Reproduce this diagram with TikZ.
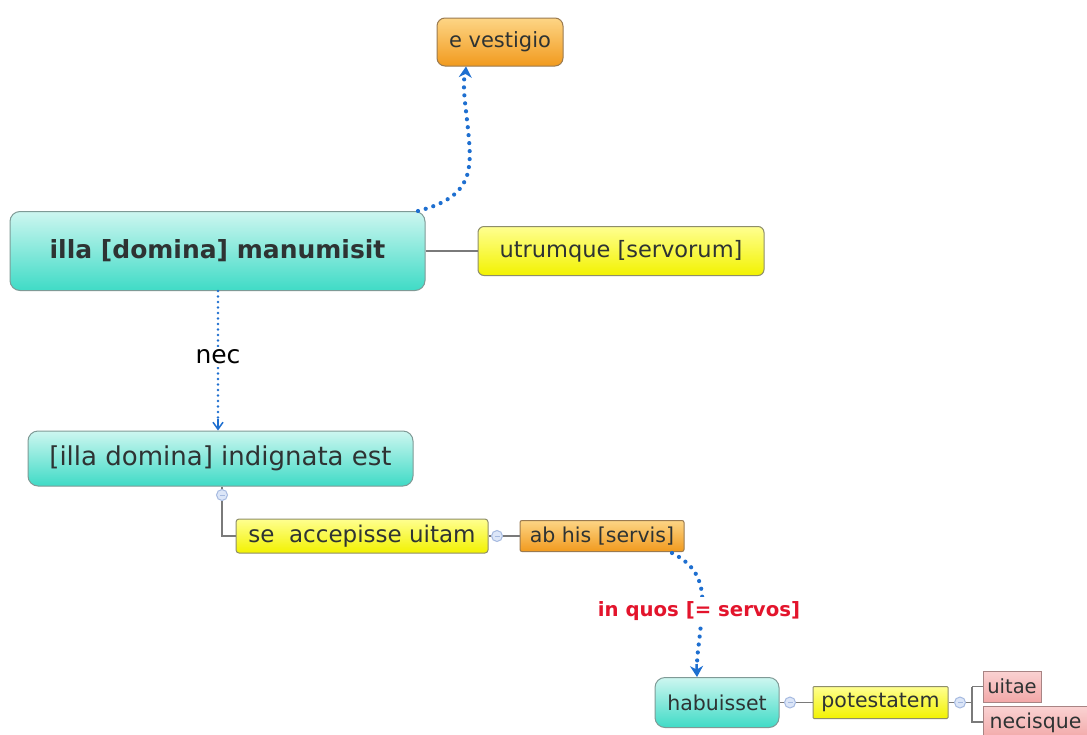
\documentclass[tikz,border=0pt]{standalone}
\usepackage{fontspec}
\setmainfont{DejaVu Sans}
\usetikzlibrary{arrows.meta,calc}
\definecolor{txt}{HTML}{2E3333}
\definecolor{tealT}{HTML}{CDF6F0}
\definecolor{tealB}{HTML}{3FDBC6}
\definecolor{tealD}{HTML}{7F9A96}
\definecolor{yelT}{HTML}{FFFF90}
\definecolor{yelB}{HTML}{F2F200}
\definecolor{yelD}{HTML}{8E8E6A}
\definecolor{oraT}{HTML}{FDD585}
\definecolor{oraB}{HTML}{F19A1E}
\definecolor{oraD}{HTML}{9A7A50}
\definecolor{pinT}{HTML}{FAD2D2}
\definecolor{pinB}{HTML}{F2A8A8}
\definecolor{pinD}{HTML}{A88484}
\definecolor{linkblue}{HTML}{1E6FD0}
\definecolor{redlab}{HTML}{E3142C}
\definecolor{tree}{HTML}{7A7A7A}
\definecolor{circF}{HTML}{DCE6F8}
\definecolor{circD}{HTML}{A6BAE0}
\tikzset{
  fs/.style={font=\fontsize{#1}{#1}\selectfont},
  tealbox/.style={draw=tealD, line width=1pt, top color=tealT, bottom color=tealB, rounded corners=10pt, text=txt, inner sep=0pt},
  yelbox/.style={draw=yelD, line width=1pt, top color=yelT, bottom color=yelB, rounded corners=3pt, text=txt, inner sep=0pt},
  orabox/.style={draw=oraD, line width=1pt, top color=oraT, bottom color=oraB, rounded corners=3pt, text=txt, inner sep=0pt},
  pinbox/.style={draw=pinD, line width=1pt, top color=pinT, bottom color=pinB, text=txt, inner sep=0pt},
  treeline/.style={draw=tree, line width=1.2pt},
  knob/.style={circle, draw=circD, fill=circF, line width=1pt, minimum size=11pt, inner sep=0pt,
     path picture={\draw[circD, line width=0.8pt] ($(path picture bounding box.center)+(-2.5pt,0)$) -- ++(5pt,0);}},
  bigdots/.style={draw=linkblue, line width=4.2pt, line cap=round, dash pattern=on 0pt off 8pt},
  smalldots/.style={draw=linkblue, line width=2.6pt, line cap=round, dash pattern=on 0pt off 5.5pt},
}
\begin{document}
\begin{tikzpicture}[x=1pt,y=-1pt]
\useasboundingbox (0,0) rectangle (1087,734);
\fill[white] (0,0) rectangle (1087,734);

% nodes
\node[orabox, rounded corners=8pt, minimum width=126pt, minimum height=48pt, fs=21] (evest) at (500,42) {e vestigio};
\node[tealbox, minimum width=415pt, minimum height=79pt, font=\fontsize{25}{25}\selectfont\bfseries] (manu) at (217.5,251) {illa [domina] manumisit};
\node[yelbox, rounded corners=6pt, minimum width=286pt, minimum height=49pt, fs=22.5] (utr) at (621,251) {utrumque [servorum]};
\node[tealbox, minimum width=385pt, minimum height=55pt, fs=26] (indig) at (220.5,458.5) {[illa domina] indignata est};
\node[yelbox, minimum width=252pt, minimum height=34pt, fs=23] (seacc) at (362,536) {se\ \ accepisse uitam};
\node[orabox, rounded corners=2pt, minimum width=164pt, minimum height=31pt, fs=20.5] (abhis) at (602,536) {ab his [servis]};
\node[tealbox, minimum width=124pt, minimum height=50pt, fs=20.5] (habu) at (717,702.5) {habuisset};
\node[yelbox, rounded corners=1pt, minimum width=135pt, minimum height=32pt, fs=20.5] (potest) at (880.5,702.5) {potestatem};
\node[pinbox, minimum width=58pt, minimum height=31pt, fs=19.5] (uitae) at (1012,686.5) {uitae};
\node[pinbox, minimum width=104pt, minimum height=32pt, fs=20.5, anchor=north west] (necis) at (983,706) {necisque};

% knobs
\node[knob] (k1) at (222,495) {};
\node[knob] (k2) at (497,536) {};
\node[knob] (k3) at (790,702.5) {};
\node[knob] (k4) at (960,702.5) {};
\coordinate (b1) at (222,536);
\coordinate (fork) at (972,702.5);
\coordinate (forkU) at (972,686.5);
\coordinate (forkD) at (972,722);

% tree lines
\draw[treeline] (manu.east) -- (utr.west);
\draw[treeline] (indig.south -| k1) -- (k1.north);
\draw[treeline] (k1.south) -- (b1) -- (seacc.west);
\draw[treeline] (seacc.east) -- (k2.west);
\draw[treeline] (k2.east) -- (abhis.west);
\draw[treeline] (habu.east) -- (k3.west);
\draw[treeline] (k3.east) -- (potest.west);
\draw[treeline] (potest.east) -- (k4.west);
\draw[treeline] (k4.east) -- (fork);
\draw[treeline] (uitae.west -| fork) -- (uitae.west);
\draw[treeline] (forkU) -- (forkD) -- (necis.west |- forkD);

% relationship links
\coordinate (s1) at (418,211);
\draw[bigdots] (s1) .. controls (468,198) and (472,175) .. (469,140) .. controls (466,105) and (462,90) .. (465,72);
\draw[linkblue, line width=2.5pt, -{Stealth[length=11pt,width=13pt]}] (465.5,74) -- (evest.south -| 466,0);

\coordinate (s2) at (218,290);
\draw[smalldots] (manu.south -| s2) -- (218,420);
\draw[linkblue, line width=1.5pt, -{Straight Barb[length=7pt,width=10pt]}] (218,419) -- (indig.north -| s2);
\node[fill=white, fs=25, text=black, inner sep=3pt] (nec) at (218,357) {nec};

\draw[bigdots] (672,553) .. controls (698,566) and (704,585) .. (702,611) .. controls (700,640) and (697,652) .. (697,666);
\draw[linkblue, line width=2.5pt, -{Stealth[length=11pt,width=13pt]}] (696.5,664) -- (habu.north -| 697,0);
\node[fill=white, font=\fontsize{19.7}{19.7}\selectfont\bfseries, text=redlab, inner sep=4pt] (inq) at (699,611) {in quos [= servos]};
\end{tikzpicture}
\end{document}
